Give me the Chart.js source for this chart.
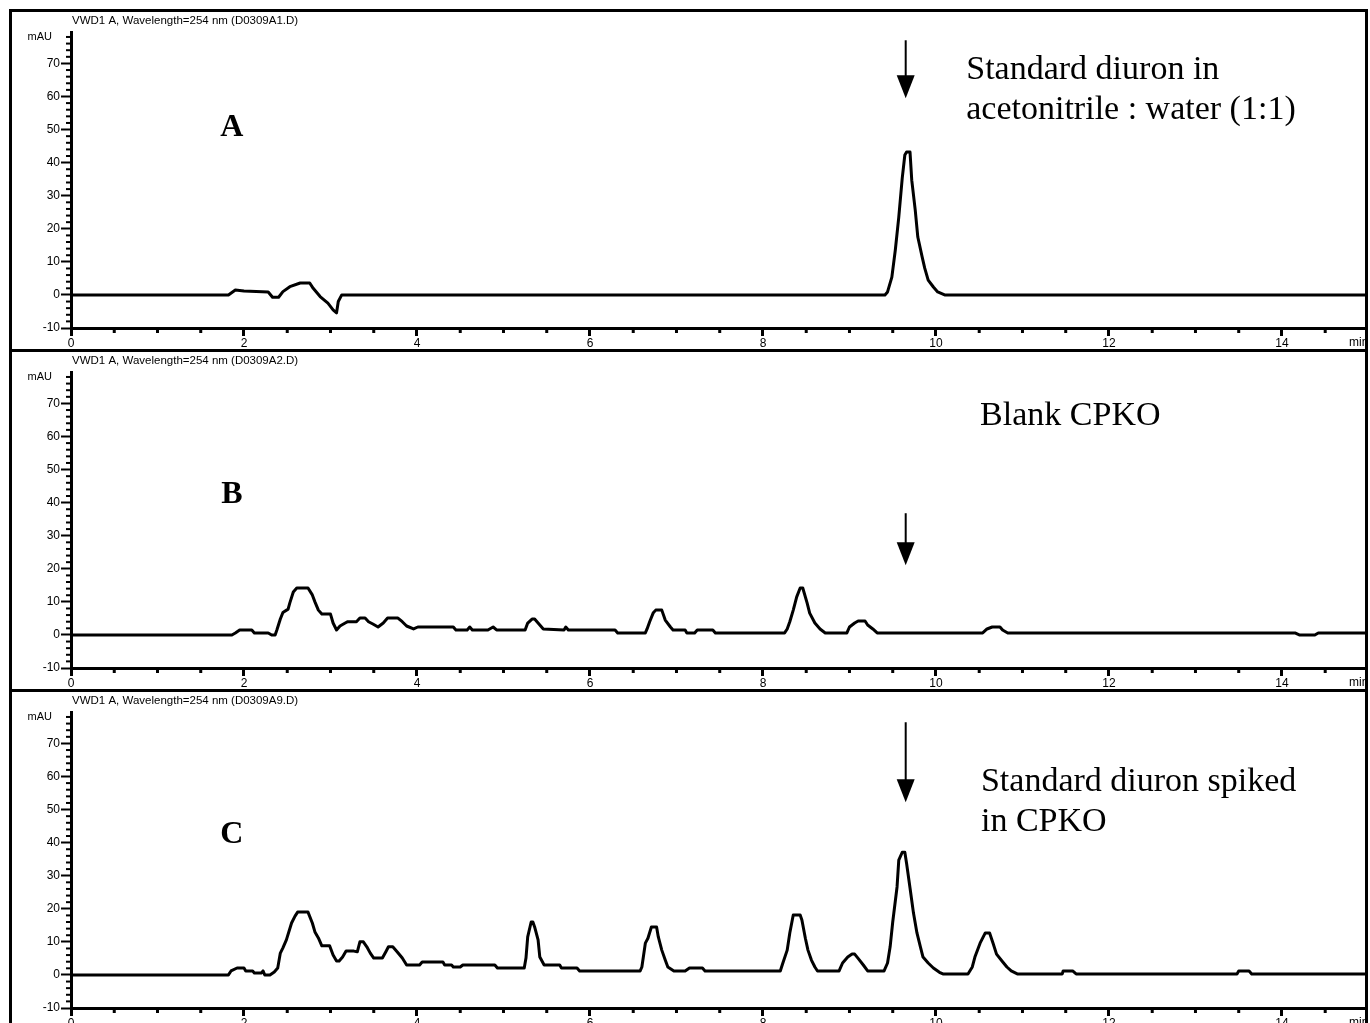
<!DOCTYPE html>
<html>
<head>
<meta charset="utf-8">
<script src="https://cdn.jsdelivr.net/npm/chart.js@4.4.1/dist/chart.umd.min.js"></script>
<style>
  html, body { margin: 0; padding: 0; background: #fff; overflow: hidden; }
  .panel { position: absolute; left: 9px; width: 1353px; height: 337px; border: 3px solid #000; border-bottom: none; }
  .panel canvas { display: block; }
</style>
</head>
<body>
<div class="panel" style="top:9px"><canvas id="chartA" width="1353" height="337"></canvas></div>
<div class="panel" style="top:349px"><canvas id="chartB" width="1353" height="337"></canvas></div>
<div class="panel" style="top:689px"><canvas id="chartC" width="1353" height="337"></canvas></div>
<script>
// axis ticks (minutes / mAU)
const xTicks = [0, 2, 4, 6, 8, 10, 12, 14];
const yTicks = [-10, 0, 10, 20, 30, 40, 50, 60, 70];

// A: standard diuron in acetonitrile : water
const timeA = [0, 1.82, 1.9, 2.0, 2.28, 2.33, 2.4, 2.45, 2.53, 2.65, 2.76, 2.8, 2.88, 2.97, 3.03, 3.07, 3.09, 3.13,
  9.41, 9.44, 9.49, 9.53, 9.57, 9.61, 9.64, 9.66, 9.7, 9.72, 9.76, 9.79, 9.84, 9.87, 9.91, 9.97, 10.02, 10.1, 14.96];
const mauA = [0, 0, 1.5, 1.2, 0.9, -0.7, -0.7, 1, 2.5, 3.6, 3.6, 2, -0.5, -2.5, -4.5, -5.4, -2, 0,
  0, 0.9, 5.4, 13.6, 23.5, 35.3, 42.3, 43.2, 43.2, 34.7, 25.7, 17.5, 11.5, 8.1, 4.5, 2.4, 0.9, 0, 0];

// B: blank CPKO
const timeB = [0, 1.86, 1.9, 1.95, 2.09, 2.12, 2.28, 2.32, 2.36, 2.38, 2.42, 2.45, 2.51, 2.53, 2.57, 2.61, 2.74, 2.79,
  2.82, 2.86, 2.9, 3.0, 3.03, 3.07, 3.11, 3.17, 3.2, 3.3, 3.34, 3.4, 3.44, 3.49, 3.55, 3.61, 3.66, 3.78, 3.83, 3.88,
  3.96, 4.01, 4.42, 4.45, 4.58, 4.61, 4.64, 4.82, 4.88, 4.92, 5.25, 5.28, 5.33, 5.36, 5.4, 5.46, 5.7, 5.72, 5.75,
  6.29, 6.32, 6.64, 6.66, 6.69, 6.73, 6.76, 6.83, 6.87, 6.93, 6.96, 7.1, 7.12, 7.21, 7.24, 7.42, 7.45, 8.25, 8.28,
  8.31, 8.35, 8.39, 8.43, 8.46, 8.51, 8.54, 8.6, 8.66, 8.72, 8.97, 9.0, 9.06, 9.1, 9.18, 9.21, 9.27, 9.32, 10.54,
  10.59, 10.65, 10.74, 10.77, 10.83, 14.15, 14.2, 14.38, 14.42, 14.96];
const mauB = [0, 0, 0.6, 1.5, 1.5, 0.6, 0.6, 0, 0, 1.5, 4.8, 6.8, 7.8, 9.7, 13, 14.2, 14.2, 12.1,
  10, 7.5, 6.3, 6.3, 3.6, 1.5, 2.7, 3.6, 4, 4, 5.1, 5.1, 4, 3.3, 2.4, 3.6, 5.1, 5.1, 4, 2.7,
  1.8, 2.4, 2.4, 1.5, 1.5, 2.4, 1.5, 1.5, 2.4, 1.5, 1.5, 3.6, 4.8, 4.8, 3.6, 1.8, 1.5, 2.4, 1.5,
  1.5, 0.6, 0.6, 1.8, 4, 6.6, 7.5, 7.5, 4.5, 2.4, 1.5, 1.5, 0.6, 0.6, 1.5, 1.5, 0.6, 0.6, 1.8,
  4, 7.5, 11.5, 14.2, 14.2, 9.7, 6.6, 3.6, 1.8, 0.6, 0.6, 2.4, 3.6, 4.2, 4.2, 3, 1.8, 0.6, 0.6,
  1.8, 2.4, 2.4, 1.5, 0.6, 0.6, 0, 0, 0.6, 0.6];

// C: standard diuron spiked in CPKO
const timeC = [0, 1.82, 1.85, 1.92, 2.0, 2.02, 2.1, 2.12, 2.2, 2.22, 2.24, 2.3, 2.35, 2.39, 2.42, 2.45, 2.49, 2.55,
  2.59, 2.62, 2.74, 2.79, 2.82, 2.86, 2.9, 2.99, 3.03, 3.07, 3.1, 3.14, 3.18, 3.27, 3.31, 3.34, 3.38, 3.42, 3.46,
  3.5, 3.6, 3.64, 3.67, 3.72, 3.77, 3.83, 3.88, 4.03, 4.06, 4.3, 4.32, 4.4, 4.42, 4.5, 4.53, 4.9, 4.93, 5.24, 5.26,
  5.28, 5.32, 5.34, 5.36, 5.4, 5.42, 5.47, 5.65, 5.67, 5.85, 5.88, 6.58, 6.6, 6.64, 6.67, 6.71, 6.77, 6.79, 6.83,
  6.87, 6.9, 6.97, 7.1, 7.15, 7.3, 7.33, 8.2, 8.23, 8.28, 8.31, 8.35, 8.43, 8.45, 8.49, 8.52, 8.56, 8.6, 8.63,
  8.88, 8.92, 8.98, 9.03, 9.06, 9.1, 9.16, 9.21, 9.4, 9.44, 9.47, 9.5, 9.55, 9.57, 9.61, 9.64, 9.66, 9.7, 9.74,
  9.78, 9.82, 9.85, 9.91, 9.97, 10.04, 10.08, 10.37, 10.42, 10.45, 10.51, 10.57, 10.62, 10.66, 10.7, 10.77, 10.82,
  10.87, 10.94, 11.46, 11.47, 11.58, 11.62, 13.48, 13.5, 13.62, 13.65, 14.96];
const mauC = [0, 0, 1.2, 2.1, 2.1, 1.2, 1.2, 0.6, 0.6, 1.2, 0, 0, 0.9, 2.1, 6.6, 8.2, 10.6, 15.7,
  17.8, 19, 19, 15.7, 13, 11.2, 8.8, 8.8, 6, 4.2, 4.2, 5.4, 7.2, 7.2, 7, 10, 10, 8.5, 6.6,
  5.1, 5.1, 7, 8.5, 8.5, 7, 5.1, 3, 3, 3.9, 3.9, 3, 3, 2.4, 2.4, 3, 3, 2.1, 2.1, 5.1,
  11.5, 16, 16, 14.5, 10.6, 5.4, 3, 3, 2.1, 2.1, 1.2, 1.2, 2.4, 9.6, 11.1, 14.5, 14.5, 11.5, 7.5,
  4.5, 2.4, 1.2, 1.2, 2.1, 2.1, 1.2, 1.2, 3.6, 7.5, 12.7, 18.1, 18.1, 16.6, 11.1, 7.5, 4.5, 2.4, 1.2,
  1.2, 3.6, 5.4, 6.3, 6.3, 5, 3, 1.2, 1.2, 3.6, 8.5, 16, 26.6, 34.7, 37.1, 37.1, 33.8, 26.3, 18.7,
  12.7, 8.5, 5.4, 3.6, 2.1, 0.8, 0.3, 0.3, 2.4, 5.4, 9.6, 12.7, 12.7, 9.6, 6.3, 4, 2.4,
  1.2, 0.3, 0.3, 1.2, 1.2, 0.3, 0.3, 1.2, 1.2, 0.3, 0.3];

const tickFont = {family: '"Liberation Sans", Arial, sans-serif', size: 12};

const decor = {
  id: 'decor',
  afterDraw(chart, args, o) {
    const {ctx, chartArea: a, scales: {x, y}} = chart;
    ctx.save();
    ctx.fillStyle = '#000';
    ctx.strokeStyle = '#000';
    // minor ticks
    for (let t = 0.5; t < x.max; t += 0.5) {
      if (t % 2 === 0) continue;
      ctx.fillRect(x.getPixelForValue(t) - 1.5, a.bottom, 3, 5);
    }
    for (let v = -8; v < y.max; v += 2) {
      if (v % 10 === 0) continue;
      ctx.fillRect(a.left - 5, y.getPixelForValue(v) - 1, 5, 2);
    }
    // instrument header, units
    ctx.font = '11.5px "Liberation Sans", Arial, sans-serif';
    ctx.textBaseline = 'middle';
    ctx.textAlign = 'left';
    ctx.fillText(o.title, a.left + 1, 9);
    ctx.font = '11px "Liberation Sans", Arial, sans-serif';
    ctx.textAlign = 'right';
    ctx.fillText('mAU', a.left - 19, a.top + 5);
    ctx.font = '12px "Liberation Sans", Arial, sans-serif';
    ctx.textAlign = 'left';
    ctx.fillText('min', chart.width - 16, a.bottom + 15);
    // panel letter
    ctx.font = 'bold 32px "Liberation Serif", "Times New Roman", serif';
    ctx.textAlign = 'center';
    ctx.fillText(o.letter, x.getPixelForValue(o.letterAt[0]), y.getPixelForValue(o.letterAt[1]));
    // note text
    ctx.font = '34px "Liberation Serif", "Times New Roman", serif';
    ctx.textAlign = 'left';
    o.note.forEach((line, i) => {
      ctx.fillText(line, x.getPixelForValue(o.noteAt[0]), y.getPixelForValue(o.noteAt[1] - i * 12));
    });
    // arrow marking the diuron retention time
    const ax = x.getPixelForValue(o.arrow[0]);
    const top = y.getPixelForValue(o.arrow[1]);
    const tip = y.getPixelForValue(o.arrow[2]);
    ctx.lineWidth = 2;
    ctx.beginPath();
    ctx.moveTo(ax, top);
    ctx.lineTo(ax, tip - 20);
    ctx.stroke();
    ctx.beginPath();
    ctx.moveTo(ax - 9, tip - 23);
    ctx.lineTo(ax + 9, tip - 23);
    ctx.lineTo(ax, tip);
    ctx.closePath();
    ctx.fill();
    ctx.restore();
  }
};

function makeChart(id, times, values, opts) {
  const points = times.map((t, i) => ({x: t, y: values[i]}));
  return new Chart(document.getElementById(id), {
    type: 'line',
    data: {
      datasets: [{
        data: points,
        borderColor: '#000',
        borderWidth: 3,
        borderJoinStyle: 'round',
        pointRadius: 0,
        tension: 0,
        fill: false
      }]
    },
    options: {
      responsive: false,
      animation: false,
      events: [],
      layout: {padding: {top: 20, left: 0, right: 0, bottom: 0}},
      plugins: {legend: {display: false}, tooltip: {enabled: false}, decor: opts},
      scales: {
        x: {
          type: 'linear',
          min: 0,
          max: 14.96,
          afterBuildTicks: s => { s.ticks = xTicks.map(v => ({value: v})); },
          afterFit: s => { s.height = 21; },
          ticks: {autoSkip: false, maxRotation: 0, padding: 0, color: '#000', font: tickFont},
          grid: {drawOnChartArea: false, tickLength: 8, tickWidth: 3, tickColor: '#000'},
          border: {color: '#000', width: 3}
        },
        y: {
          min: -10,
          max: 79.5,
          afterBuildTicks: s => { s.ticks = yTicks.map(v => ({value: v})); },
          afterFit: s => { s.width = 59; },
          ticks: {padding: 1, color: '#000', font: tickFont},
          grid: {drawOnChartArea: false, tickLength: 10, tickWidth: 2, tickColor: '#000'},
          border: {color: '#000', width: 3}
        }
      }
    },
    plugins: [decor]
  });
}

makeChart('chartA', timeA, mauA, {
  title: 'VWD1 A, Wavelength=254 nm (D0309A1.D)',
  letter: 'A', letterAt: [1.86, 50.7],
  note: ['Standard diuron in', 'acetonitrile : water (1:1)'], noteAt: [10.35, 67.9],
  arrow: [9.65, 77, 59.5]
});
makeChart('chartB', timeB, mauB, {
  title: 'VWD1 A, Wavelength=254 nm (D0309A2.D)',
  letter: 'B', letterAt: [1.86, 42.3],
  note: ['Blank CPKO'], noteAt: [10.51, 66.1],
  arrow: [9.65, 36.8, 21.1]
});
makeChart('chartC', timeC, mauC, {
  title: 'VWD1 A, Wavelength=254 nm (D0309A9.D)',
  letter: 'C', letterAt: [1.86, 42.3],
  note: ['Standard diuron spiked', 'in CPKO'], noteAt: [10.52, 58.3],
  arrow: [9.65, 76.4, 52.2]
});
</script>
</body>
</html>
